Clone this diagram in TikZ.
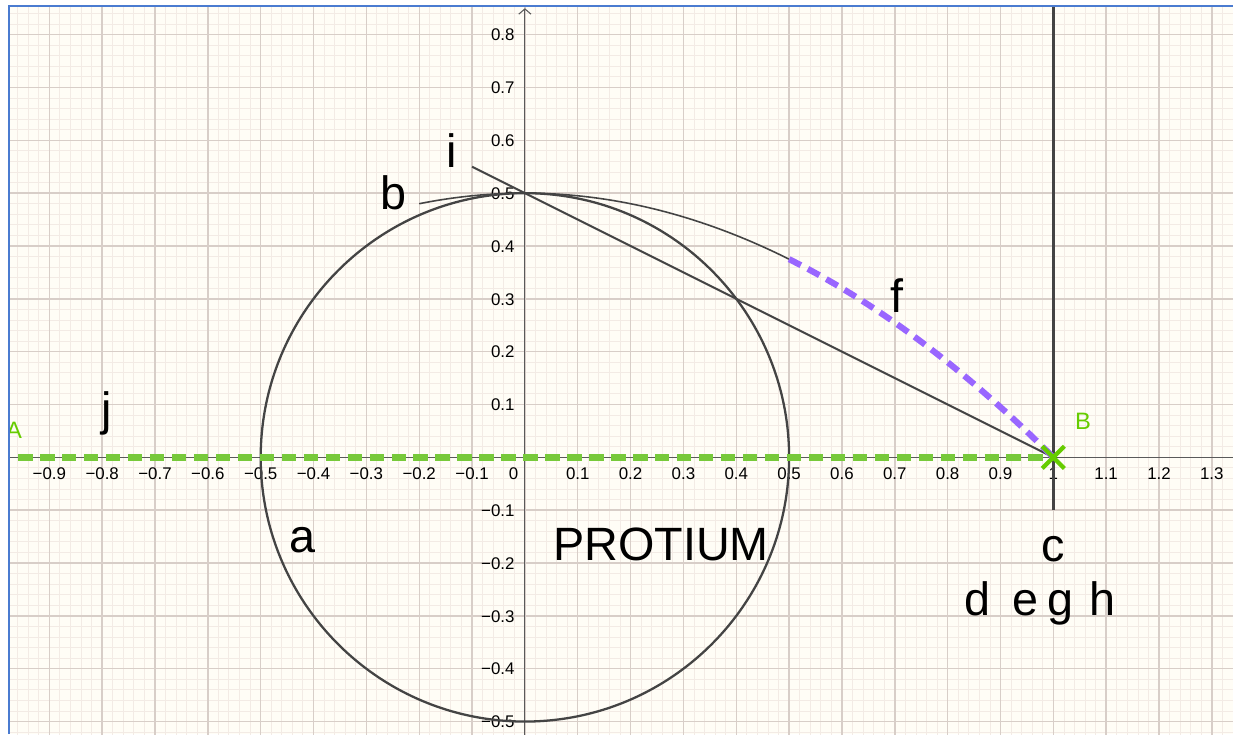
\documentclass[tikz,border=0pt]{standalone}
\usepackage{fontspec}
\setmainfont{Liberation Sans}
\usetikzlibrary{arrows.meta}
\definecolor{bgc}{HTML}{FFFDF6}
\definecolor{minorc}{HTML}{F3EBE5}
\definecolor{majorc}{HTML}{D8CEC8}
\definecolor{axisc}{HTML}{5A5A5A}
\definecolor{curvec}{HTML}{444444}
\definecolor{greenc}{HTML}{77C93A}
\definecolor{crossc}{HTML}{66CC00}
\definecolor{purplec}{HTML}{9966FF}
\definecolor{framec}{HTML}{4A7BD0}
\begin{document}
\begin{tikzpicture}[x=0.02cm,y=0.02cm,
  lbl/.style={font=\fontsize{26.6}{30}\selectfont, anchor=base, inner sep=0pt, text=black},
  ticklbl/.style={font=\fontsize{9.6}{10}\selectfont, inner sep=0pt, text=black},
  ptlbl/.style={font=\fontsize{13.5}{15}\selectfont, anchor=base, inner sep=0pt, text=crossc},
  minorgrid/.style={minorc, line width=0.5pt},
  majorgrid/.style={majorc, line width=0.8pt},
  axisline/.style={axisc, line width=0.6pt},
  objline/.style={curvec, line width=1.3pt}]
\useasboundingbox (0,0) rectangle (1233,734);
\fill[white] (0,0) rectangle (1233,734);
\begin{scope}
  \clip (9,0) rectangle (1233,728);
  \fill[bgc] (9,0) rectangle (1233,728);
  \begin{scope}[shift={(10.5cm,5.534cm)}, x=10.57cm, y=10.57cm]
    % grid
    \draw[minorgrid] (-1,-0.56) grid[step=0.02] (1.36,0.88);
    \draw[majorgrid] (-1,-0.56) grid[step=0.1] (1.36,0.88);
    % axes
    \coordinate (xl) at (-1,0);
    \coordinate (xr) at (1.36,0);
    \coordinate (yb) at (0,-0.56);
    \coordinate (yt) at (0,0.850);
    \draw[axisline] (xl) -- (xr);
    \draw[axisline, -{Straight Barb[length=3pt,width=7pt]}] (yb) -- (yt);
    % tick labels
    \foreach \k/\t in {-9/−0.9,-8/−0.8,-7/−0.7,-6/−0.6,-5/−0.5,-4/−0.4,-3/−0.3,-2/−0.2,-1/−0.1,
                       1/0.1,2/0.2,3/0.3,4/0.4,5/0.5,6/0.6,7/0.7,8/0.8,9/0.9,10/1,11/1.1,12/1.2,13/1.3}
      \node[ticklbl, anchor=base] (xt\k) at (\k/10,-0.041) {\t};
    \foreach \k/\t in {8/0.8,7/0.7,6/0.6,5/0.5,4/0.4,3/0.3,2/0.2,1/0.1,
                       -1/−0.1,-2/−0.2,-3/−0.3,-4/−0.4,-5/−0.5}
      \node[ticklbl, anchor=base east] (yt\k) at (-0.019,\k/10-0.0118) {\t};
    \node[ticklbl, anchor=base east] (orig) at (-0.012,-0.041) {0};
    % objects
    \coordinate (O) at (0,0);
    \draw[objline] (O) circle (0.5);
    \draw[curvec, line width=0.9pt] plot[domain=-0.2:0.5, samples=60, smooth] (\x,{0.5*(1-\x*\x)});
    \coordinate (I1) at (-0.1,0.55);
    \coordinate (B) at (1,0);
    \coordinate (A) at (-0.959,0);
    \coordinate (C1) at (1,-0.1);
    \coordinate (C2) at (1,0.9);
    \draw[curvec, line width=1.15pt] (I1) -- (B);
    \draw[curvec, line width=1.7pt] (C1) -- (C2);
    \draw[greenc, line width=3.6pt, dash pattern=on 8.2pt off 4.3pt] (A) -- (B);
    \draw[purplec, line width=3.5pt, dash pattern=on 7.5pt off 4.5pt]
      plot[domain=0.5:1, samples=40, smooth] (\x,{0.5*(1-\x*\x)});
    \draw[crossc, line width=2.4pt] (B) +(-0.021,-0.021) -- +(0.021,0.021)
                                    (B) +(-0.021,0.021) -- +(0.021,-0.021);
  \end{scope}
  % labels
  \node[ptlbl] (labA) at (14,296) {A};
  \node[ptlbl] (labB) at (1083,304) {B};
  \node[lbl] (la) at (302,182) {a};
  \node[lbl] (lb) at (393,524) {b};
  \node[lbl] (lc) at (1053,173) {c};
  \node[lbl] (ld) at (977,119) {d};
  \node[lbl] (le) at (1025,119) {e};
  \node[lbl] (lg) at (1060,119) {g};
  \node[lbl] (lh) at (1102,119) {h};
  \node[lbl] (lf) at (897,421) {f};
  \node[lbl] (li) at (452,566) {i};
  \node[lbl] (lj) at (107,309) {j};
  \node[lbl] (lprot) at (661,174) {PROTIUM};
\end{scope}
\draw[framec, line width=1.2pt] (9,0) -- (9,728) -- (1233,728);
\end{tikzpicture}
\end{document}
